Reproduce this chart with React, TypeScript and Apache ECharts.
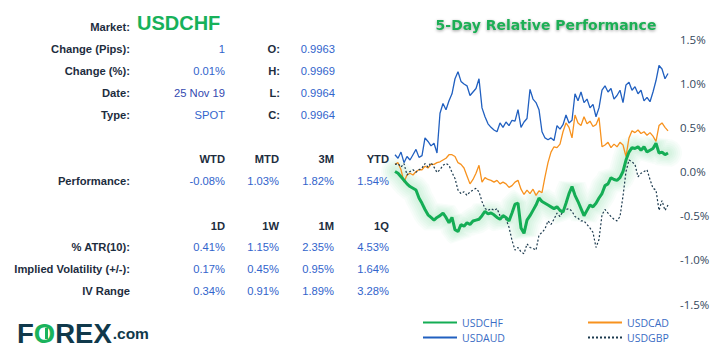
import React, { useEffect, useRef } from "react";
import * as echarts from "echarts";

// ---------- Table data ----------
const market = "USDCHF";
const infoLabels = ["Change (Pips):", "Change (%):", "Date:", "Type:"];
const infoValues = ["1", "0.01%", "25 Nov 19", "SPOT"];
const ohlcLabels = ["O:", "H:", "L:", "C:"];
const ohlcValues = ["0.9963", "0.9969", "0.9964", "0.9964"];
const perfHeaders = ["WTD", "MTD", "3M", "YTD"];
const perfValues = ["-0.08%", "1.03%", "1.82%", "1.54%"];
const volHeaders = ["1D", "1W", "1M", "1Q"];
const volLabels = ["% ATR(10):", "Implied Volatility (+/-):", "IV Range"];
const atrValues = ["0.41%", "1.15%", "2.35%", "4.53%"];
const ivValues = ["0.17%", "0.45%", "0.95%", "1.64%"];
const ivRangeValues = ["0.34%", "0.91%", "1.89%", "3.28%"];

// ---------- Chart data (% relative performance, 5 days) ----------
const seriesNames = ["USDCHF", "USDCAD", "USDAUD", "USDGBP"];
const usdchf = [
  0.0, -0.02, -0.06, -0.1, -0.14, -0.17, -0.19, -0.21, -0.3, -0.36,
  -0.43, -0.49, -0.52, -0.55, -0.52, -0.5, -0.47, -0.52, -0.58, -0.52,
  -0.66, -0.68, -0.6, -0.62, -0.58, -0.6, -0.56, -0.55, -0.54, -0.5,
  -0.45, -0.48, -0.47, -0.49, -0.52, -0.54, -0.5, -0.52, -0.56, -0.47,
  -0.37, -0.36, -0.64, -0.7, -0.55, -0.5, -0.44, -0.38, -0.3, -0.34,
  -0.36, -0.38, -0.4, -0.42, -0.4, -0.44, -0.46, -0.36, -0.25, -0.17,
  -0.27, -0.34, -0.42, -0.5, -0.44, -0.38, -0.4, -0.36, -0.3, -0.25,
  -0.16, -0.14, -0.07, -0.09, -0.1, -0.07, 0.0, 0.13, 0.22, 0.27,
  0.26, 0.28, 0.24, 0.28, 0.22, 0.24, 0.26, 0.32, 0.21, 0.22,
  0.19, 0.21,
];
const usdcad = [
  0.08, 0.1, 0.02, -0.12, -0.04, -0.02, -0.04, 0.0, 0.02, 0.02,
  0.06, 0.04, 0.08, 0.08, 0.1, 0.11, 0.13, 0.15, 0.19, 0.19,
  0.17, 0.1, 0.08, 0.04, -0.05, -0.14, -0.09, -0.02, 0.07, -0.12,
  -0.07, -0.09, -0.1, -0.12, -0.1, -0.14, -0.12, -0.14, -0.18, -0.16,
  -0.12, -0.1, -0.2, -0.26, -0.21, -0.25, -0.2, -0.27, -0.22, -0.24,
  -0.06, 0.1, 0.22, 0.28, 0.27, 0.31, 0.45, 0.55, 0.5, 0.38,
  0.64, 0.55, 0.52, 0.62, 0.54, 0.57, 0.51, 0.53, 0.61, 0.28,
  0.3, 0.33, 0.27, 0.31, 0.28, 0.33, 0.3, 0.17, 0.38, 0.46,
  0.44, 0.47, 0.43, 0.45, 0.41, 0.44, 0.4, 0.34, 0.52, 0.55,
  0.5, 0.46,
];
const usdaud = [
  0.19, 0.15, 0.22, 0.1, 0.17, 0.13, 0.19, 0.25, 0.16, 0.18,
  0.38, 0.34, 0.29, 0.32, 0.21, 0.66, 0.77, 0.7, 0.8, 0.88,
  1.05, 1.13, 1.02, 0.99, 0.97, 0.86, 0.9, 0.94, 1.05, 0.72,
  0.62, 0.54, 0.5, 0.47, 0.45, 0.55, 0.5, 0.56, 0.52, 0.58,
  0.57, 0.7, 0.5, 0.56, 0.6, 0.93, 0.82, 0.78, 0.7, 0.45,
  0.38, 0.36, 0.38, 0.35, 0.52, 0.48, 0.53, 0.64, 0.55, 0.58,
  0.88, 0.8, 0.9, 0.78, 0.82, 0.72, 0.76, 0.62, 0.72, 0.92,
  0.97, 0.9, 0.94, 0.82, 0.86, 0.92, 0.78, 0.98, 1.01, 0.92,
  0.96, 0.88, 0.92, 0.8, 0.84, 0.79, 0.9, 1.03, 1.2, 1.16,
  1.05, 1.11,
];
const usdgbp = [
  0.08, 0.09, 0.05, 0.09, -0.04, 0.0, 0.02, -0.01, 0.02, 0.04,
  0.09, 0.05, 0.1, 0.05, -0.01, 0.02, 0.07, 0.09, 0.07, -0.01,
  -0.08, -0.21, -0.25, -0.23, -0.27, -0.23, -0.21, -0.19, -0.23, -0.34,
  -0.42, -0.44, -0.42, -0.44, -0.42, -0.5, -0.52, -0.54, -0.63, -0.78,
  -0.89, -0.86, -0.91, -0.93, -0.82, -0.86, -0.87, -0.89, -0.72, -0.69,
  -0.65, -0.56, -0.6, -0.54, -0.47, -0.51, -0.45, -0.43, -0.42, -0.45,
  -0.51, -0.53, -0.56, -0.56, -0.6, -0.64, -0.69, -0.86, -0.77, -0.49,
  -0.43, -0.47, -0.51, -0.54, -0.56, -0.51, -0.28, 0.0, 0.13, 0.11,
  0.08, -0.06, -0.02, 0.0, 0.02, -0.09, -0.19, -0.21, -0.44, -0.33,
  -0.44, -0.38,
];
const categories = usdchf.map((_, i) => String(i));

const LABEL = "#1d2d3e";
const VALUE = "#3264cc";
const FONT = '"Liberation Sans", Arial, sans-serif';
const FS = 11.2;

function txt(text: string, x: number, y: number, align: string, opts: any = {}) {
  return {
    type: "text",
    x,
    y,
    silent: true,
    style: {
      text,
      fill: opts.fill || LABEL,
      fontSize: opts.fontSize || FS,
      fontWeight: opts.bold ? "bold" : "normal",
      fontFamily: opts.fontFamily || FONT,
      textAlign: align,
      textVerticalAlign: "middle",
      align,
      verticalAlign: "middle",
      ...(opts.extra || {}),
    },
  };
}

function buildGraphics() {
  const g: any[] = [];
  const labelRight = 130;
  const cols = [225, 279, 334, 389];
  g.push(txt("Market:", labelRight, 27, "right", { bold: true }));
  g.push(txt(market, 137, 23, "left", { bold: true, fontSize: 20, fill: "#17b15a" }));
  const infoYs = [49, 71, 93, 115];
  infoLabels.forEach((l, i) => {
    g.push(txt(l, labelRight, infoYs[i], "right", { bold: true }));
    g.push(txt(infoValues[i], 225, infoYs[i], "right", { fill: i === 2 ? "#3349b0" : VALUE }));
    g.push(txt(ohlcLabels[i], 280, infoYs[i], "right", { bold: true }));
    g.push(txt(ohlcValues[i], 335, infoYs[i], "right", { fill: VALUE }));
  });
  perfHeaders.forEach((h, i) => g.push(txt(h, cols[i], 159, "right", { bold: true })));
  g.push(txt("Performance:", labelRight, 181, "right", { bold: true }));
  perfValues.forEach((v, i) => g.push(txt(v, cols[i], 181, "right", { fill: VALUE })));
  volHeaders.forEach((h, i) => g.push(txt(h, cols[i], 226, "right", { bold: true })));
  const rows = [atrValues, ivValues, ivRangeValues];
  const rowYs = [247, 269, 291];
  volLabels.forEach((l, r) => {
    g.push(txt(l, labelRight, rowYs[r], "right", { bold: true }));
    rows[r].forEach((v, i) => g.push(txt(v, cols[i], rowYs[r], "right", { fill: VALUE })));
  });
  // Title
  g.push(
    txt("5-Day Relative Performance", 546, 25, "center", {
      bold: true,
      fontSize: 14,
      fill: "#1fae55",
      fontFamily: '"DejaVu Sans", Verdana, sans-serif',
      extra: {
        textShadowColor: "rgba(0,0,0,0.4)",
        textShadowBlur: 3,
        textShadowOffsetY: 1,
      },
    })
  );
  // Logo
  g.push({
    type: "text",
    x: 17,
    y: 333,
    silent: true,
    style: {
      text: "{a|F}{b|O}{a|REX}{c|.com}",
      textVerticalAlign: "middle",
      verticalAlign: "middle",
      rich: {
        a: { fill: "#10394b", fontSize: 27.5, fontWeight: 900, fontFamily: '"Liberation Sans", Arial' },
        b: { fill: "#1bb35c", fontSize: 27.5, fontWeight: 900, fontFamily: '"Liberation Sans", Arial' },
        c: { fill: "#10394b", fontSize: 15.5, fontWeight: "bold", fontFamily: '"Liberation Sans", Arial', padding: [0, 0, 0, 1] },
      },
    },
  });
  g.push({
    type: "line",
    silent: true,
    shape: { x1: 46.5, y1: 328, x2: 46.5, y2: 339 },
    style: { stroke: "#1bb35c", lineWidth: 3 },
  });
  return g;
}

export default function App() {
  const ref = useRef<HTMLDivElement>(null);
  useEffect(() => {
    if (!ref.current) return;
    const chart = echarts.init(ref.current, undefined, { renderer: "svg" });
    const legendText = {
      color: "#3a6cc4",
      fontSize: 10.5,
      fontFamily: '"Open Sans", sans-serif',
    };
    const glowWidths = [28, 24, 20, 16, 12, 8];
    const glowSeries = glowWidths.map((w) => ({
      name: "USDCHF-glow",
      type: "line",
      data: usdchf,
      symbol: "none",
      silent: true,
      lineStyle: { color: "#3cc878", width: w, opacity: 0.035, cap: "round", join: "bevel" },
    }));
    chart.setOption({
      animation: false,
      graphic: buildGraphics(),
      grid: { left: 395, right: 50, top: 39, bottom: 53 },
      xAxis: {
        type: "category",
        data: categories,
        boundaryGap: false,
        show: false,
      },
      yAxis: {
        type: "value",
        position: "right",
        min: -1.5,
        max: 1.5,
        interval: 0.5,
        axisLine: { show: false },
        axisTick: { show: false },
        splitLine: { show: false },
        axisLabel: {
          margin: 12,
          color: "#34485c",
          fontSize: 11.5,
          fontFamily: '"Open Sans", sans-serif',
          formatter: (v: number) => v.toFixed(1) + "%",
        },
      },
      legend: [
        {
          left: 417,
          top: 312,
          orient: "vertical",
          itemWidth: 34,
          itemHeight: 10,
          itemGap: 4,
          itemStyle: { opacity: 0 },
          data: [seriesNames[0], seriesNames[2]],
          textStyle: legendText,
        },
        {
          left: 582,
          top: 312,
          orient: "vertical",
          itemWidth: 34,
          itemHeight: 10,
          itemGap: 4,
          itemStyle: { opacity: 0 },
          data: [seriesNames[1], seriesNames[3]],
          textStyle: legendText,
        },
      ],
      series: [
        ...glowSeries,
        {
          name: "USDAUD",
          type: "line",
          data: usdaud,
          symbol: "none",
          lineStyle: { color: "#2160c0", width: 1.3 },
          itemStyle: { color: "#2160c0" },
        },
        {
          name: "USDCAD",
          type: "line",
          data: usdcad,
          symbol: "none",
          lineStyle: { color: "#f7921e", width: 1.3 },
          itemStyle: { color: "#f7921e" },
        },
        {
          name: "USDGBP",
          type: "line",
          data: usdgbp,
          symbol: "none",
          lineStyle: { color: "#1c3a4e", width: 1.2, type: [2, 2] },
          itemStyle: { color: "#1c3a4e" },
        },
        {
          name: "USDCHF",
          type: "line",
          data: usdchf,
          symbol: "none",
          lineStyle: { color: "#14ad55", width: 3 },
          itemStyle: { color: "#14ad55" },
        },
      ],
    });
    return () => chart.dispose();
  }, []);
  return (
    <div
      ref={ref}
      style={{ position: "absolute", left: 0, top: 0, width: 718, height: 357 }}
    />
  );
}
